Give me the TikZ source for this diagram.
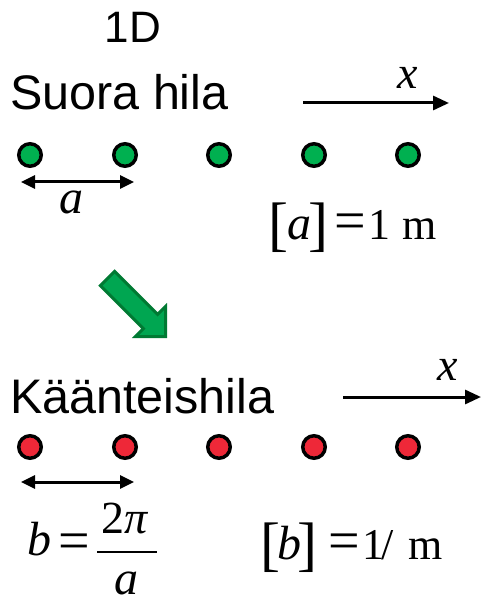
\documentclass[tikz,border=0pt]{standalone}
\usepackage{fontspec}
\setmainfont{Liberation Sans}
\newfontfamily\tms{Liberation Serif}
\usetikzlibrary{arrows.meta}
\definecolor{dotgreen}{RGB}{0,176,80}
\definecolor{dotred}{RGB}{238,40,56}
\definecolor{arrfill}{RGB}{0,166,81}
\definecolor{arrdraw}{RGB}{0,122,51}
\tikzset{
  lbl/.style={font=\fontsize{48.5}{48.5}\selectfont, inner sep=0pt, anchor=base west},
  mth/.style={font=\tms\fontsize{48}{48}\selectfont\itshape, inner sep=0pt, anchor=base},
  rom/.style={font=\tms\fontsize{44}{44}\selectfont, inner sep=0pt, anchor=base},
  eqs/.style={font=\tms\fontsize{56}{56}\selectfont, inner sep=0pt, anchor=base},
  gdot/.style={circle, draw=black, line width=3.5pt, fill=dotgreen, minimum size=22.5pt, inner sep=0pt},
  rdot/.style={circle, draw=black, line width=3.5pt, fill=dotred, minimum size=22.5pt, inner sep=0pt},
  axis/.style={line width=3pt, -{Triangle[length=16pt,width=14pt]}},
  dim/.style={line width=3pt, {Triangle[length=14pt,width=13pt]}-{Triangle[length=14pt,width=13pt]}},
}
\newcommand{\brk}[1]{\raisebox{-5pt}{\fontsize{60}{60}\selectfont\upshape #1}}
\begin{document}
\begin{tikzpicture}[x=1pt,y=-1pt]
\useasboundingbox (0,0) rectangle (481,601);
% titles
\node[lbl, anchor=base, font=\fontsize{44}{44}\selectfont] (t1d) at (133,43) {1D};
\node[lbl] (tsuora) at (10,110) {Suora hila};
\node[lbl] (tkaan) at (10,413) {Käänteishila};
% top axis
\coordinate (xa1) at (303,103);
\coordinate (xa2) at (449,103);
\draw[axis] (xa1) -- (xa2);
\node[mth, anchor=center, font=\tms\fontsize{46}{46}\selectfont\itshape] (xl1) at (408,78) {x};
% top dots
\foreach \i/\x in {1/30,2/125,3/219,4/314,5/408}
  \node[gdot] (g\i) at (\x,155) {};
\coordinate (da1) at (21,182);
\coordinate (da2) at (134,182);
\draw[dim] (da1) -- (da2);
\node[mth, anchor=center] (la) at (71,202) {a};
% [a] = 1 m
\node[mth, anchor=base west] (abr) at (268,240) {\brk{[}\kern-1pt a\kern-3pt\brk{]}};
\node[eqs] (aeq) at (350,240) {=};
\node[rom] (a1) at (379,240) {1};
\node[rom] (am) at (420,240) {m};
% green arrow
\draw[arrdraw, fill=arrfill, line width=3pt, line join=miter]
  (100.4,285.6) -- (114.6,271.4) -- (157.6,314.4) -- (165.5,306.5) -- (165.5,336.5)
  -- (135.5,336.5) -- (143.4,328.6) -- cycle;
% bottom axis
\coordinate (xb1) at (343,397);
\coordinate (xb2) at (481,397);
\draw[axis] (xb1) -- (xb2);
\node[mth, anchor=center, font=\tms\fontsize{46}{46}\selectfont\itshape] (xl2) at (448,370) {x};
% bottom dots
\foreach \i/\x in {1/30,2/125,3/219,4/314,5/408}
  \node[rdot] (r\i) at (\x,447) {};
\coordinate (db1) at (21,482);
\coordinate (db2) at (134,482);
\draw[dim] (db1) -- (db2);
% b = 2pi/a
\node[mth] (fb) at (39,555) {b};
\node[eqs] (feq) at (74,559) {=};
\coordinate (bar1) at (97,552);
\coordinate (bar2) at (157,552);
\draw[line width=2.5pt] (bar1) -- (bar2);
\node[rom, font=\tms\fontsize{46}{46}\selectfont] (fnum) at (125.5,533) {2\textit{π}};
\node[mth] (fden) at (126,594) {a};
% [b] = 1/m
\node[mth, anchor=base west] (bbr) at (260,559) {\brk{[}\kern-3pt b\kern-4pt\brk{]}};
\node[eqs] (beq) at (344,559) {=};
\node[rom] (b1) at (373,559) {1};
\node[rom] (bsl) at (388,559) {/};
\node[rom] (bm) at (426,559) {m};
\end{tikzpicture}
\end{document}
